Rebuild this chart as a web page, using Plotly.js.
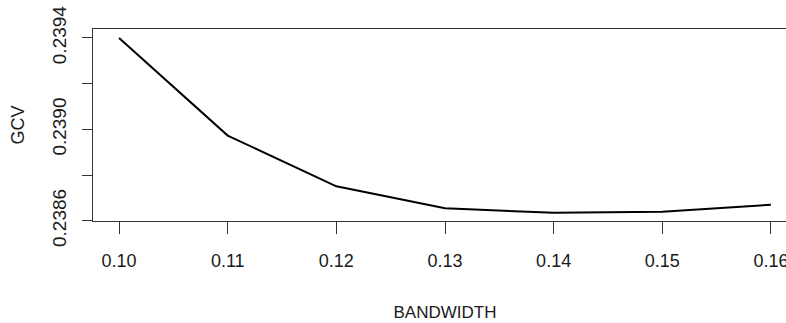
<!DOCTYPE html>
<html>
<head>
<meta charset="utf-8">
<script src="https://cdn.plot.ly/plotly-3.0.1.min.js"></script>
<style>
html,body{margin:0;padding:0;overflow:hidden;background:#fff;}
#chart{width:800px;height:323px;}
</style>
</head>
<body>
<div id="chart"></div>
<script>
var bandwidth = [0.10, 0.11, 0.12, 0.13, 0.14, 0.15, 0.16];
var gcv = [0.239400, 0.238973, 0.238751, 0.238655, 0.238635, 0.238640, 0.238670];
var xTickVals = [0.10, 0.11, 0.12, 0.13, 0.14, 0.15, 0.16];
var xTickText = ['0.10', '0.11', '0.12', '0.13', '0.14', '0.15', '0.16'];
var yTickVals = [0.2386, 0.2388, 0.2390, 0.2392, 0.2394];
var yTickText = ['0.2386', '', '0.2390', '', '0.2394'];

var font = 'Liberation Sans, Arial, sans-serif';
var ink = '#1a1a1a';

Plotly.newPlot('chart', [{
  x: bandwidth,
  y: gcv,
  type: 'scatter',
  mode: 'lines',
  line: {color: '#000', width: 2},
  hoverinfo: 'skip'
}], {
  width: 800,
  height: 323,
  margin: {l: 93, r: 3, t: 29, b: 102, pad: 0},
  paper_bgcolor: '#fff',
  plot_bgcolor: '#fff',
  showlegend: false,
  font: {family: font, color: ink},
  xaxis: {
    range: [0.0976, 0.1624],
    tickvals: xTickVals,
    ticktext: xTickText,
    ticks: 'outside',
    ticklen: 12,
    tickwidth: 1,
    tickcolor: '#333',
    showline: true,
    mirror: true,
    linecolor: '#333',
    linewidth: 1,
    showgrid: false,
    zeroline: false,
    automargin: false,
    tickfont: {size: 18, color: ink, family: font},
    ticklabelstandoff: 11,
    title: {text: 'BANDWIDTH', font: {size: 17, color: ink, family: font}, standoff: 36}
  },
  yaxis: {
    range: [0.2385991, 0.2394393],
    tickvals: yTickVals,
    ticktext: yTickText,
    ticks: 'outside',
    ticklen: 10,
    tickwidth: 1,
    tickcolor: '#333',
    tickangle: -90,
    showline: true,
    mirror: true,
    linecolor: '#333',
    linewidth: 1,
    showgrid: false,
    zeroline: false,
    automargin: false,
    tickfont: {size: 19, color: ink, family: font},
    ticklabelstandoff: 8,
    title: {text: 'GCV', font: {size: 18, color: ink, family: font}, standoff: 20}
  }
}, {displayModeBar: false, staticPlot: true});
</script>
</body>
</html>
